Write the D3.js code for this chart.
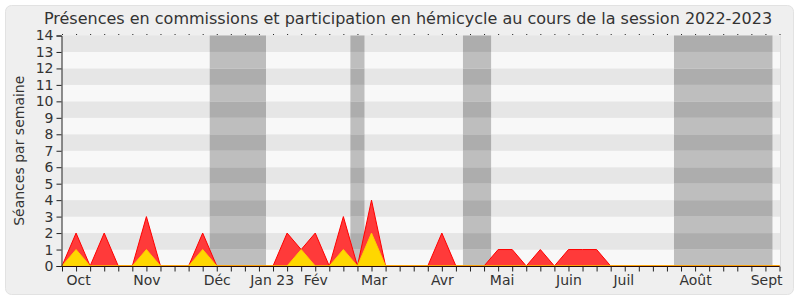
<!DOCTYPE html>
<html>
<head>
<meta charset="utf-8">
<script src="https://cdn.jsdelivr.net/npm/d3@7"></script>
<style>
  body { margin: 0; background: #ffffff; }
  svg { display: block; font-family: "DejaVu Sans", Verdana, sans-serif; }
</style>
</head>
<body>
<script>
var W = 800, H = 300;
var margin = { top: 35.5, right: 20, bottom: 34, left: 62 };

// weekly values, session 2022-2023 (52 weeks)
var weeks = d3.range(52);
var presences = [0, 2, 0, 2, 0, 0, 3, 0, 0, 0, 2, 0, 0, 0, 0, 0, 2, 1, 2, 0,
                 3, 0, 4, 0, 0, 0, 0, 2, 0, 0, 0, 1, 1, 0, 1, 0, 1, 1, 1, 0,
                 0, 0, 0, 0, 0, 0, 0, 0, 0, 0, 0, 0];
var hemicycle = [0, 1, 0, 0, 0, 0, 1, 0, 0, 0, 1, 0, 0, 0, 0, 0, 0, 1, 0, 0,
                 1, 0, 2, 0, 0, 0, 0, 0, 0, 0, 0, 0, 0, 0, 0, 0, 0, 0, 0, 0,
                 0, 0, 0, 0, 0, 0, 0, 0, 0, 0, 0, 0];

// holiday periods (in week units)
var vacStart = [10.5, 20.5, 28.5, 43.5];
var vacEnd = [14.5, 21.5, 30.5, 50.5];

// month labels and their position in weeks
var monthNames = ["Oct", "Nov", "Déc", "Jan 23", "Fév", "Mar", "Avr", "Mai", "Juin", "Juil", "Août", "Sept"];
var monthPos = [1.15, 6, 11, 14.9, 18, 22.15, 27, 31.25, 36, 39.9, 45, 50.05];

var svg = d3.select("body").append("svg")
    .attr("width", W)
    .attr("height", H);

// panel
svg.append("rect")
    .attr("x", 5.5).attr("y", 5.5)
    .attr("width", 788).attr("height", 289)
    .attr("rx", 6)
    .attr("fill", "#efefef")
    .attr("stroke", "#e2e2e2");

var x0 = margin.left, x1 = 780.5;
var yTop = margin.top, yBot = 266;

var x = d3.scaleLinear().domain([0, 51]).range([62, 779.5]);
var y = d3.scaleLinear().domain([0, 14]).range([yBot, yTop]);

// horizontal stripes
var stripes = d3.range(14);
svg.selectAll(".stripe")
    .data(stripes)
    .enter().append("rect")
    .attr("class", "stripe")
    .attr("x", x0).attr("width", x1 - x0)
    .attr("y", function (d) { return y(d + 1); })
    .attr("height", function (d) { return y(d) - y(d + 1); })
    .attr("fill", function (d) { return d % 2 ? "#e6e6e6" : "#f8f8f8"; });

// vacation bands, one piece per stripe so the shade follows the stripes
var vac = vacStart.map(function (s, i) { return { s: s, e: vacEnd[i] }; });
var bandG = svg.selectAll(".band")
    .data(vac)
    .enter().append("g")
    .attr("class", "band");
bandG.selectAll("rect")
    .data(function (v) { return stripes.map(function (k) { return { v: v, k: k }; }); })
    .enter().append("rect")
    .attr("x", function (d) { return x(d.v.s); })
    .attr("width", function (d) { return x(d.v.e) - x(d.v.s); })
    .attr("y", function (d) { return y(d.k + 1); })
    .attr("height", function (d) { return y(d.k) - y(d.k + 1); })
    .attr("fill", function (d) { return d.k % 2 ? "#adadad" : "#bebebe"; });

// right border of plot
svg.append("line")
    .attr("x1", x1).attr("x2", x1)
    .attr("y1", yTop).attr("y2", yBot)
    .attr("stroke", "#dddddd");

// areas
var area = function (vals) {
    return d3.area()
        .x(function (d) { return x(d); })
        .y0(y(0))
        .y1(function (d) { return y(vals[d]); });
};

svg.append("path")
    .datum(weeks)
    .attr("d", area(presences))
    .attr("fill", "#ff3a3a")
    .attr("stroke", "#ff0000")
    .attr("stroke-width", 1);

svg.append("path")
    .datum(weeks)
    .attr("d", area(hemicycle))
    .attr("fill", "#ffd700")
    .attr("stroke", "#ffcc00")
    .attr("stroke-width", 1);

// axes
var yAxis = d3.axisLeft(y)
    .tickValues(d3.range(15))
    .tickSize(5)
    .tickPadding(3)
    .tickFormat(d3.format("d"));

var gy = svg.append("g")
    .attr("transform", "translate(" + (x0 - 0.5) + ",0)")
    .call(yAxis);
gy.select(".domain").attr("stroke", "#222");
gy.selectAll(".tick line").attr("stroke", "#222");
gy.selectAll("text").attr("font-size", 14).attr("fill", "#333")
    .attr("font-family", "DejaVu Sans, sans-serif");

var xAxis = d3.axisBottom(x)
    .tickValues(weeks)
    .tickSize(5)
    .tickFormat("");

var gx = svg.append("g")
    .attr("transform", "translate(0," + (yBot + 0.5) + ")")
    .call(xAxis);
gx.select(".domain").attr("stroke", "#2a0a0a").attr("d", "M" + x0 + ",0H" + x(51));
gx.selectAll(".tick line").attr("stroke", "#222");

var topAxis = d3.axisTop(x)
    .tickValues(weeks)
    .tickSize(1)
    .tickFormat("");
var gt = svg.append("g")
    .attr("transform", "translate(0," + (yTop - 0.5) + ")")
    .call(topAxis);
gt.select(".domain").remove();
gt.selectAll(".tick line").attr("stroke", "#222");

var monthAxis = d3.axisBottom(x)
    .tickValues(monthPos)
    .tickSize(0)
    .tickPadding(9)
    .tickFormat(function (d, i) { return monthNames[i]; });
var gm = svg.append("g")
    .attr("transform", "translate(0," + yBot + ")")
    .call(monthAxis);
gm.select(".domain").remove();
gm.selectAll("text").attr("font-size", 14).attr("fill", "#333")
    .attr("font-family", "DejaVu Sans, sans-serif");

// y label
svg.append("text")
    .attr("transform", "translate(24," + ((yTop + yBot) / 2) + ") rotate(-90)")
    .attr("text-anchor", "middle")
    .attr("font-size", 14)
    .attr("fill", "#333")
    .text("Séances par semaine");

// title
svg.append("text")
    .attr("x", 408)
    .attr("y", 24)
    .attr("text-anchor", "middle")
    .attr("font-size", 16)
    .attr("fill", "#333")
    .text("Présences en commissions et participation en hémicycle au cours de la session 2022-2023");
</script>
</body>
</html>
